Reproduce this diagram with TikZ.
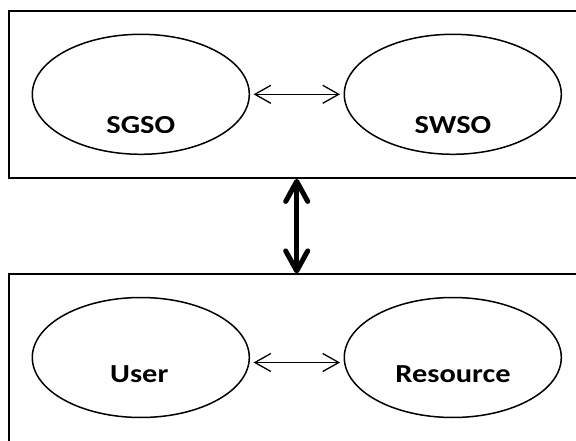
\documentclass[tikz,border=0pt]{standalone}
\usepackage{fontspec}
\newfontfamily\lbl{Carlito}[FakeStretch=1.17]
\usetikzlibrary{shapes.geometric,arrows.meta}
\tikzset{
  layerbox/.style={draw=black, line width=1.8pt, inner sep=0pt},
  oval/.style={draw=black, ellipse, line width=1.5pt, minimum width=217pt, minimum height=120pt, inner sep=0pt},
  lbltext/.style={anchor=base, inner sep=0pt, font=\lbl\fontsize{26}{30}\selectfont\bfseries},
  thinarrow/.style={line width=1.3pt, {Straight Barb[length=16pt,width=18pt]}-{Straight Barb[length=16pt,width=18pt]}},
  thickarrow/.style={line width=5pt, {Straight Barb[length=20pt,width=22pt,line cap=round,line join=round]}-{Straight Barb[length=20pt,width=22pt,line cap=round,line join=round]}}
}
\begin{document}
\begin{tikzpicture}[x=1pt,y=-1pt]
\useasboundingbox (0,0) rectangle (576,441);
% layer boxes
\node[layerbox, minimum width=571.3pt, minimum height=167.3pt] (topbox) at (294.35,94.35) {};
\node[layerbox, minimum width=571.3pt, minimum height=176pt] (botbox) at (294.35,362.3) {};
% ellipses
\node[oval] (sgso) at (140.8,94.3) {};
\node[oval] (swso) at (452.8,94.3) {};
\node[oval] (user) at (140.8,357.5) {};
\node[oval] (res) at (452.8,357.5) {};
% labels (top ones clipped at the bottom as in the original)
\begin{scope}
\clip (0,0) rectangle (576,132.3);
\node[lbltext] (tsgso) at (140.8,134) {SGSO};
\node[lbltext] (tswso) at (453,134) {SWSO};
\end{scope}
\node[lbltext] (tuser) at (139.3,382.7) {User};
\node[lbltext] (tres) at (453,382) {Resource};
% connectors
\draw[thinarrow, shorten <=3.5pt, shorten >=3.5pt] (sgso.east) -- (swso.west);
\draw[thinarrow, shorten <=3.5pt, shorten >=3.5pt] ([yshift=-5pt]user.east) -- ([yshift=-5pt]user.east -| res.west);
\coordinate (vx) at (296.7,0);
\draw[thickarrow] (topbox.south -| vx) -- (botbox.north -| vx);
\end{tikzpicture}
\end{document}
